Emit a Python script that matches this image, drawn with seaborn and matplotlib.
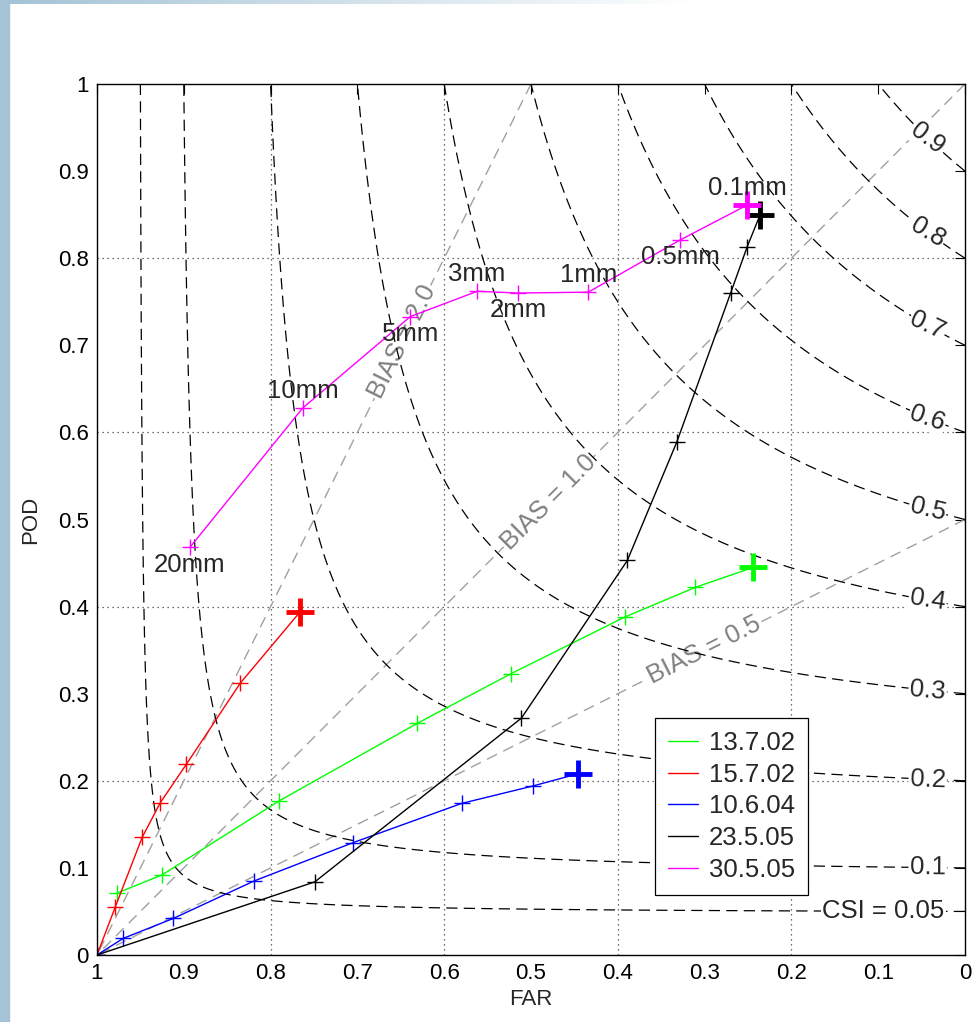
import numpy as np
import pandas as pd
import seaborn as sns
import matplotlib.pyplot as plt
from matplotlib.lines import Line2D
from matplotlib.patches import Rectangle
from matplotlib.ticker import FuncFormatter

# values: FAR (x, reversed) and POD (y) per event
dates = ["13.7.02", "15.7.02", "10.6.04", "23.5.05", "30.5.05"]
colors = ["#00ff00", "#ff0000", "#0000ff", "#000000", "#ff00ff"]

far_1307 = [0.977, 0.925, 0.790, 0.631, 0.523, 0.392, 0.311, 0.244]
pod_1307 = [0.071, 0.092, 0.177, 0.266, 0.323, 0.388, 0.422, 0.445]

far_1507 = [1.000, 0.979, 0.948, 0.927, 0.897, 0.835, 0.766]
pod_1507 = [0.000, 0.055, 0.135, 0.175, 0.219, 0.312, 0.394]

far_1006 = [1.000, 0.970, 0.912, 0.819, 0.705, 0.580, 0.498, 0.446]
pod_1006 = [0.000, 0.019, 0.042, 0.085, 0.129, 0.174, 0.194, 0.208]

far_2305 = [1.000, 0.749, 0.511, 0.389, 0.332, 0.270, 0.251, 0.236]
pod_2305 = [0.000, 0.084, 0.272, 0.453, 0.589, 0.760, 0.813, 0.850]

far_3005 = [0.893, 0.763, 0.639, 0.562, 0.515, 0.434, 0.328, 0.251]
pod_3005 = [0.468, 0.628, 0.733, 0.762, 0.760, 0.761, 0.821, 0.861]
thresholds = ["20mm", "10mm", "5mm", "3mm", "2mm", "1mm", "0.5mm", "0.1mm"]

csi_levels = [0.05, 0.1, 0.2, 0.3, 0.4, 0.5, 0.6, 0.7, 0.8, 0.9]
bias_levels = [0.5, 1.0, 2.0]
ticks = [0, 0.1, 0.2, 0.3, 0.4, 0.5, 0.6, 0.7, 0.8, 0.9, 1.0]

series = [(far_1307, pod_1307), (far_1507, pod_1507), (far_1006, pod_1006),
          (far_2305, pod_2305), (far_3005, pod_3005)]
df = pd.concat([pd.DataFrame({"FAR": f, "POD": p, "date": d})
                for (f, p), d in zip(series, dates)], ignore_index=True)

sns.set_style("white")
plt.rcParams["font.family"] = ["Liberation Sans", "DejaVu Sans"]
FS = 18.5

W, H = 977, 1022
fig = plt.figure(figsize=(W / 100, H / 100), dpi=100)
fig.patch.set_facecolor("white")
ax_l, ax_b, ax_w, ax_h = 97 / W, 67 / H, 868 / W, 871 / H
ax = fig.add_axes([ax_l, ax_b, ax_w, ax_h])

# slide background bits
fig.patches.append(Rectangle((0, 0), 9 / W, 1, transform=fig.transFigure,
                             color="#a4c3d6", zorder=0))
top = fig.add_axes([0, 1 - 4 / H, 1, 4 / H])
grad = np.linspace(0, 1, 256)[None, :]
top.imshow(np.clip(grad * 1.4, 0, 1), aspect="auto",
           cmap=sns.blend_palette(["#a4c3d6", "#ffffff"], as_cmap=True))
top.axis("off")

ax.set_xlim(1, 0)
ax.set_ylim(0, 1)

# dotted grid every 0.2
for g in [0.2, 0.4, 0.6, 0.8]:
    ax.axvline(g, color="#404040", lw=0.9, ls=(0, (1, 3)), zorder=0.5)
    ax.axhline(g, color="#404040", lw=0.9, ls=(0, (1, 3)), zorder=0.5)

px_ratio = (ax_h * H) / (ax_w * W)

# bias lines  POD = B * (1 - FAR)
bias_pos = {0.5: 0.70, 1.0: 0.52, 2.0: 0.352}
for b in bias_levels:
    ax.axline((1.0, 0.0), slope=-b, color="#a0a0a0", lw=1.0, ls=(0, (8, 5)), zorder=1)
    sr = bias_pos[b]
    ang = np.degrees(np.arctan(b * px_ratio))
    ax.text(1 - sr, b * sr, f"BIAS = {b:.1f}", color="#808080", fontsize=FS,
            rotation=ang, rotation_mode="anchor", ha="center", va="center",
            bbox=dict(boxstyle="square,pad=0.05", fc="white", ec="none"), zorder=1.5)

# CSI contours
far_g, pod_g = np.meshgrid(np.linspace(0, 0.999, 500), np.linspace(0.001, 1, 500))
sr_g = 1 - far_g
csi = 1 / (1 / sr_g + 1 / pod_g - 1)
cs = ax.contour(far_g, pod_g, csi, levels=csi_levels, colors="k", linewidths=0.9, zorder=2)
cs.set_linestyle((0, (9, 5)))

for c in csi_levels:
    sr = 0.906 if c == 0.05 else 0.957
    pod = 1 / (1 / c - 1 / sr + 1)
    slope = -(pod / sr) ** 2
    ang = 0.85 * np.degrees(np.arctan(slope * px_ratio))
    txt = "CSI = 0.05" if c == 0.05 else f"{c:g}"
    ax.text(1 - sr, pod, txt, fontsize=FS, rotation=0 if c == 0.05 else ang,
            rotation_mode="anchor", ha="center", va="center",
            bbox=dict(boxstyle="square,pad=0.05", fc="white", ec="none"), zorder=2.5)

# event curves
sns.lineplot(data=df, x="FAR", y="POD", hue="date", hue_order=dates, palette=colors,
             sort=False, estimator=None, marker="+", markersize=11, mew=1,
             lw=1, legend=False, ax=ax, zorder=3)
for line, c in zip(ax.lines[-len(dates):], colors):
    line.set_markeredgecolor(c)

for (f, p), c in zip(series, colors):
    ax.plot(f[-1], p[-1], marker="+", ms=20, mew=3.5, color=c, ls="none", zorder=4)

for i, (f, p, t) in enumerate(zip(far_3005, pod_3005, thresholds)):
    dy = 12.5 if i % 2 else -12.5
    ax.annotate(t, (f, p), xytext=(0, dy), textcoords="offset points",
                ha="center", va="center", fontsize=FS, zorder=5)

handles = [Line2D([], [], color=c, lw=1) for c in colors]
leg = ax.legend(handles, dates, loc="upper left", bbox_to_anchor=(0.643, 0.272),
                borderaxespad=0, fontsize=FS, handlelength=1.15, handletextpad=0.45,
                labelspacing=0.3, borderpad=0.5, fancybox=False, framealpha=1,
                edgecolor="black")
leg.get_frame().set_linewidth(0.9)
leg.set_zorder(6)

ax.set_xticks(ticks)
ax.set_yticks(ticks)
fmt = FuncFormatter(lambda v, _: f"{v:g}")
ax.xaxis.set_major_formatter(fmt)
ax.yaxis.set_major_formatter(fmt)
ax.tick_params(direction="in", length=7, width=0.8, top=True, right=True,
               labelsize=16, pad=6, colors="black")
for s in ax.spines.values():
    s.set_color("black")
    s.set_linewidth(1.0)

ax.set_xlabel("FAR", fontsize=16, labelpad=3)
ax.set_ylabel("POD", fontsize=16, labelpad=12)

fig.savefig("out.png", dpi=100)
